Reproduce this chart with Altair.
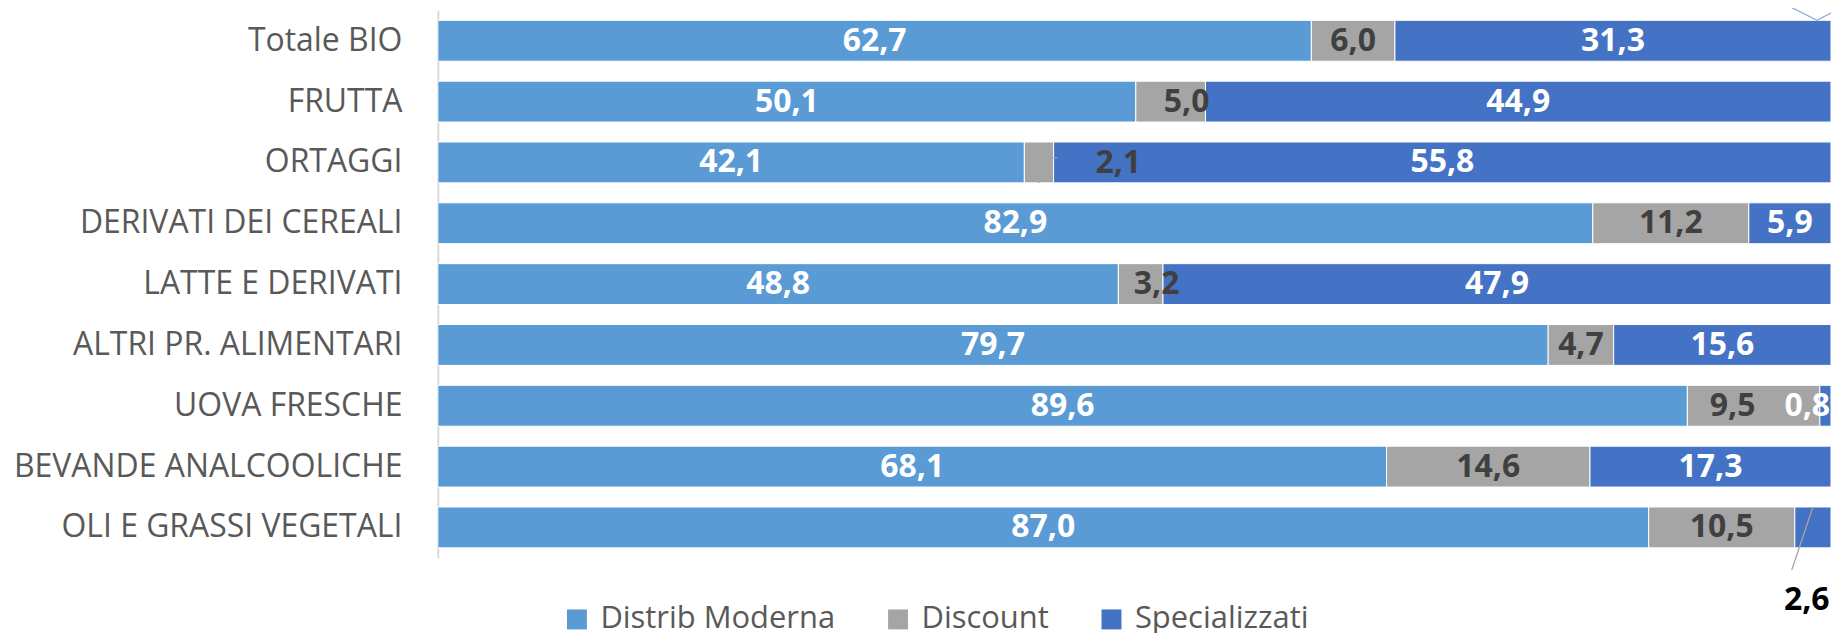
import altair as alt
import pandas as pd

categories = ["Totale BIO", "FRUTTA", "ORTAGGI", "DERIVATI DEI CEREALI", "LATTE E DERIVATI",
              "ALTRI PR. ALIMENTARI", "UOVA FRESCHE", "BEVANDE ANALCOOLICHE", "OLI E GRASSI VEGETALI"]
series = ["Distrib Moderna", "Discount", "Specializzati"]
distrib_moderna = [62.7, 50.1, 42.1, 82.9, 48.8, 79.7, 89.6, 68.1, 87.0]
discount = [6.0, 5.0, 2.1, 11.2, 3.2, 4.7, 9.5, 14.6, 10.5]
specializzati = [31.3, 44.9, 55.8, 5.9, 47.9, 15.6, 0.8, 17.3, 2.6]
colors = ["#5B9BD5", "#A5A5A5", "#4472C4"]

values = {"Distrib Moderna": distrib_moderna, "Discount": discount, "Specializzati": specializzati}

rows = []
for i, cat in enumerate(categories):
    total = sum(values[s][i] for s in series)
    cum = 0.0
    for s in series:
        v = values[s][i]
        start = cum / total
        cum += v
        end = cum / total
        rows.append({"cat": cat, "row": i, "series": s, "value": v,
                     "start": start, "end": end, "mid": (start + end) / 2,
                     "label": f"{v:.1f}".replace(".", ",")})
df = pd.DataFrame(rows)
C = df["cat"]
S = df["series"]

def seg(cat, s):
    return df[(C == cat) & (S == s)].iloc[0]

# leader lines anchored on the segments they point at (x as share, y in row units)
HB = 0.336  # half bar thickness in row units
g = seg("ORTAGGI", "Discount")
b = seg("OLI E GRASSI VEGETALI", "Specializzati")
t = seg("Totale BIO", "Specializzati")
lead_gray = pd.DataFrame([
    {"id": "ortaggi", "o": 0, "x": g["mid"], "y": g["row"] + 0.5 + HB},
    {"id": "ortaggi", "o": 1, "x": g["end"] - 0.0065, "y": g["row"] + 0.42},
    {"id": "ortaggi", "o": 2, "x": g["end"] + 0.0025, "y": g["row"] + 0.42},
    {"id": "oli", "o": 0, "x": b["mid"], "y": b["row"] + 0.5 - HB},
    {"id": "oli", "o": 1, "x": b["start"] - 0.0022, "y": b["row"] + 1.2},
])
lead_top = pd.DataFrame([
    {"id": "tot", "o": 0, "x": t["end"] - 0.0336, "y": -0.16},
    {"id": "tot", "o": 1, "x": t["end"] - 0.0336, "y": -0.107},
    {"id": "tot", "o": 2, "x": t["end"] - 0.010, "y": t["row"] + 0.5 - HB},
    {"id": "tot", "o": 3, "x": t["end"] + 0.003, "y": 0.008},
])

xscale = alt.Scale(domain=[0, 1], nice=False, zero=False)
yscale = alt.Scale(domain=categories, paddingInner=0.328, paddingOuter=0.164)
FONT = "Open Sans"

ycat = alt.Y("cat:N", sort=categories, scale=yscale,
             axis=alt.Axis(title=None, labelFont=FONT, labelFontSize=32, labelColor="#595959",
                           labelPadding=36, ticks=False, domainColor="#D9D9D9", domainWidth=2,
                           grid=False, labelLimit=600))

bars = alt.Chart(df).mark_bar(stroke="white", strokeWidth=1).encode(
    y=ycat,
    x=alt.X("start:Q", scale=xscale, axis=None),
    x2="end:Q",
    color=alt.Color("series:N", scale=alt.Scale(domain=series, range=colors),
                    legend=alt.Legend(title=None, orient="none", legendX=124, legendY=595,
                                      direction="horizontal", columns=3, symbolType="square",
                                      symbolSize=400, symbolStrokeWidth=0, labelFont=FONT,
                                      labelFontSize=31, labelColor="#595959", labelOffset=8,
                                      labelLimit=0, columnPadding=47, padding=0)),
)

special = [("ORTAGGI", "Discount"), ("OLI E GRASSI VEGETALI", "Specializzati"),
           ("UOVA FRESCHE", "Specializzati"), ("UOVA FRESCHE", "Discount"),
           ("LATTE E DERIVATI", "Discount"), ("FRUTTA", "Discount")]
is_special = pd.Series([(c, s) in special for c, s in zip(C, S)], index=df.index)
normal = df[~is_special]

def txt(data, color, xfield="mid", align="center", dx=0, dy=0):
    return alt.Chart(data).mark_text(font=FONT, fontSize=32, fontWeight="bold", color=color,
                                     align=align, baseline="middle", dx=dx, dy=dy).encode(
        y=alt.Y("cat:N", sort=categories, scale=yscale),
        x=alt.X(f"{xfield}:Q", scale=xscale),
        text="label:N")

white_lbl = txt(normal[normal["series"] != "Discount"], "white")
dark_lbl = txt(normal[normal["series"] == "Discount"], "#404040")
nudge_right = txt(df[(S == "Discount") & C.isin(["LATTE E DERIVATI", "FRUTTA"])], "#404040", dx=16)
uova_disc = txt(df[(S == "Discount") & (C == "UOVA FRESCHE")], "#404040", dx=-21)
uova_spec = txt(df[(S == "Specializzati") & (C == "UOVA FRESCHE")], "white",
                xfield="end", align="right", dx=-1)
ort_disc = txt(df[(S == "Discount") & (C == "ORTAGGI")], "#404040",
               xfield="end", align="left", dx=42, dy=1)
oli_spec = txt(df[(S == "Specializzati") & (C == "OLI E GRASSI VEGETALI")], "black",
               xfield="start", dx=12, dy=73)

inner = alt.layer(bars, white_lbl, dark_lbl, nudge_right, uova_disc, uova_spec, ort_disc, oli_spec)

yrow = alt.Scale(domain=[0, len(categories)], reverse=True, nice=False, zero=False)
line_gray = alt.Chart(lead_gray).mark_line(color="#A6A6A6", strokeWidth=1.3).encode(
    x=alt.X("x:Q", scale=xscale), y=alt.Y("y:Q", scale=yrow, axis=None),
    detail="id:N", order="o:Q")
line_top = alt.Chart(lead_top).mark_line(color="#8FAADC", strokeWidth=1.3).encode(
    x=alt.X("x:Q", scale=xscale), y=alt.Y("y:Q", scale=yrow, axis=None),
    detail="id:N", order="o:Q")

chart = alt.layer(inner, line_gray, line_top).resolve_scale(y="independent").properties(
    width=1397, height=549,
    padding={"left": 431, "top": 1.5, "right": 0, "bottom": 74},
    autosize=alt.AutoSizeParams(type="none"),
    background="white",
).configure_view(stroke=None)

chart.save("out.html", embed_options={"renderer": "svg", "actions": False})
